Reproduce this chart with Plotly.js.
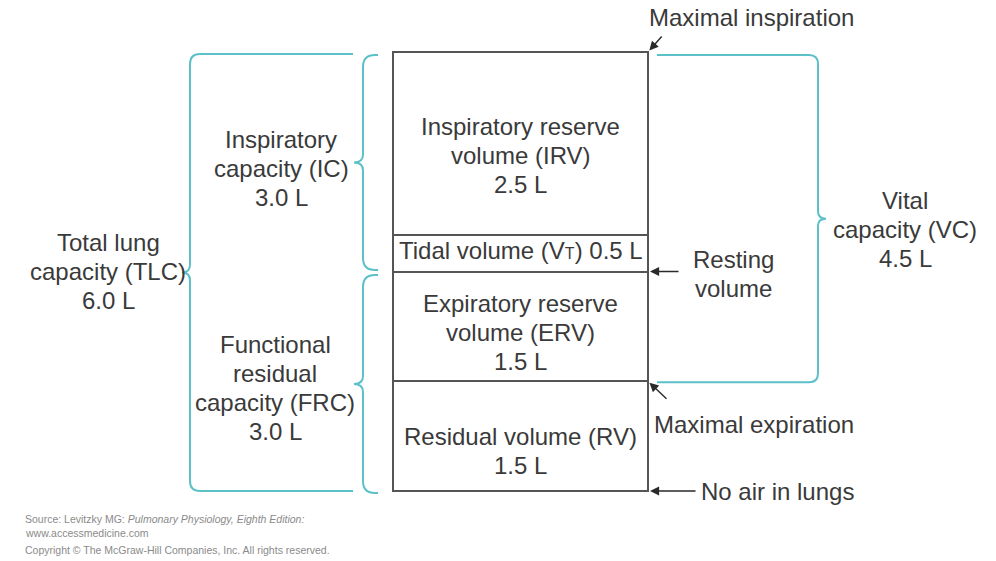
<!DOCTYPE html>
<html>
<head>
<meta charset="utf-8">
<script src="https://cdn.plot.ly/plotly-3.0.1.min.js"></script>
<style>html,body{margin:0;padding:0;background:#fff;}#chart{width:996px;height:561px;}</style>
</head>
<body>
<div id="chart"></div>
<script>
// ---- data (litres) ----
const volumeNames = ['Residual volume (RV)', 'Expiratory reserve volume (ERV)', 'Tidal volume (VT)', 'Inspiratory reserve volume (IRV)'];
const volumeLitres = [1.5, 1.5, 0.5, 2.5];
const volumeLabels = [
  'Residual volume (RV)<br>1.5 L',
  'Expiratory reserve<br>volume (ERV)<br>1.5 L',
  'Tidal volume (V<span style="font-size:16px">T</span>) 0.5 L',
  'Inspiratory reserve<br>volume (IRV)<br>2.5 L'
];
const capacityNames = ['Inspiratory capacity (IC)', 'Functional residual capacity (FRC)', 'Vital capacity (VC)', 'Total lung capacity (TLC)'];
const capacityLitres = [3.0, 3.0, 4.5, 6.0];
const capacityLabels = [
  'Inspiratory<br>capacity (IC)<br>3.0 L',
  'Functional<br>residual<br>capacity (FRC)<br>3.0 L',
  'Vital<br>capacity (VC)<br>4.5 L',
  'Total lung<br>capacity (TLC)<br>6.0 L'
];
const markerLabels = ['Maximal inspiration', 'Resting<br>volume', 'Maximal expiration', 'No air in lungs'];
const sourceLines = [
  'Source: Levitzky MG: <i>Pulmonary Physiology, Eighth Edition:</i>',
  'www.accessmedicine.com',
  'Copyright © The McGraw-Hill Companies, Inc. All rights reserved.'
];

// ---- derived levels ----
const cum = [0];
volumeLitres.forEach(v => cum.push(cum[cum.length - 1] + v));
const TLC = cum[4], FRCtop = cum[2], RVtop = cum[1], VTtop = cum[3];
const capSpan = [
  [TLC - capacityLitres[0], TLC],           // IC
  [0, capacityLitres[1]],                   // FRC
  [TLC - capacityLitres[2], TLC],           // VC
  [0, capacityLitres[3]]                    // TLC
];

// ---- geometry / style ----
const W = 996, H = 561;
const PX = 439 / TLC;               // pixels per litre
const yMin = -(H - 491) / PX, yMax = TLC + 52 / PX;
const d = p => p / PX;              // pixels -> litres
const BOX_X = 520.5, BOX_W = 255, BOX_R = BOX_X + BOX_W / 2;
const TEXT = '#3a3a3a', BRACE = '#5cc0c8', FONT = 'Liberation Sans, Arial, Helvetica, sans-serif';
const LH = 29;                      // line height, px

const traces = volumeLitres.map((v, i) => ({
  type: 'bar', x: [BOX_X], y: [v], width: [BOX_W], name: volumeNames[i],
  marker: {color: '#ffffff', line: {color: '#555555', width: 2}},
  showlegend: false, hoverinfo: 'skip'
}));

function brace(xEnd, xSpine, xTip, yLo, yHi, r, rt) {
  const s = Math.sign(xSpine - xEnd);
  const yMid = (yLo + yHi) / 2;
  return `M${xEnd},${yHi} L${xSpine - s * r},${yHi} Q${xSpine},${yHi} ${xSpine},${yHi - d(r)} ` +
         `L${xSpine},${yMid + d(rt)} Q${xSpine},${yMid} ${xTip},${yMid} Q${xSpine},${yMid} ${xSpine},${yMid - d(rt)} ` +
         `L${xSpine},${yLo + d(r)} Q${xSpine},${yLo} ${xSpine - s * r},${yLo} L${xEnd},${yLo}`;
}
const braceShape = p => ({type: 'path', xref: 'x', yref: 'y', path: p, line: {color: BRACE, width: 2}, fillcolor: 'rgba(0,0,0,0)'});
const shapes = [
  braceShape(brace(378, 363, 354, capSpan[0][0] + d(1.5), capSpan[0][1] - d(3), 12, 8)),   // IC
  braceShape(brace(378, 363, 354, capSpan[1][0] - d(2), capSpan[1][1] - d(3.5), 12, 8)),   // FRC
  braceShape(brace(657, 818, 826, capSpan[2][0] - d(1), capSpan[2][1] - d(3), 9, 7)),      // VC
  braceShape(brace(353, 190, 182, capSpan[3][0], capSpan[3][1] - d(2), 10, 8))             // TLC
];

const font = {family: FONT, size: 24, color: TEXT};
const annotations = [];
function label(x, y, text, extra) {
  extra = extra || {};
  const lines = text.split('<br>');
  const n = lines.length, ys = extra.yshift || 0;
  lines.forEach((t, i) => {
    annotations.push(Object.assign({x, y, xref: 'x', yref: 'y', text: t, showarrow: false, font,
      xanchor: 'center', yanchor: 'middle'}, extra, {yshift: ys - (i - (n - 1) / 2) * LH}));
  });
}
const mid = s => (s[0] + s[1]) / 2;

// volumes inside the box
label(BOX_X, (VTtop + TLC) / 2, volumeLabels[3], {yshift: -12.5});
label(BOX_X, (FRCtop + VTtop) / 2, volumeLabels[2], {yshift: 3});
label(BOX_X, (RVtop + FRCtop) / 2, volumeLabels[1], {yshift: -6});
label(BOX_X, RVtop / 2, volumeLabels[0], {yshift: -15});
// capacities
label(281, mid(capSpan[0]), capacityLabels[0], {yshift: -7});
label(275, mid(capSpan[1]), capacityLabels[1], {yshift: -7});
label(905, mid(capSpan[2]), capacityLabels[2], {yshift: -12.5});
label(108, mid(capSpan[3]), capacityLabels[3], {yshift: 0});
// markers
label(BOX_R, TLC, markerLabels[0], {xshift: 103, yshift: 35});
label(BOX_R, FRCtop, markerLabels[1], {xshift: 85, yshift: -2});
label(BOX_R, RVtop, markerLabels[2], {xshift: 106, yshift: -43});
label(BOX_R, 0, markerLabels[3], {xanchor: 'left', xshift: 51, yshift: 0});

const arrow = (x, y, ax, ay) => ({x, y, xref: 'x', yref: 'y', text: '', showarrow: true, ax, ay,
  arrowhead: 2, arrowsize: 1.3, arrowwidth: 1.4, arrowcolor: '#2a2a2a', standoff: 2});
annotations.push(
  arrow(BOX_R, TLC, 15, -17),
  arrow(BOX_R, FRCtop, 32, 0),
  arrow(BOX_R, RVtop, 20, 19),
  arrow(BOX_R, 0, 49, 0)
);
// source
const srcY = [519, 532.5, 550];
sourceLines.forEach((t, i) => annotations.push({
  x: 24 / W, y: 1 - srcY[i] / H, xref: 'paper', yref: 'paper', text: t, showarrow: false,
  xanchor: 'left', yanchor: 'middle', borderpad: 0, font: {family: FONT, size: 10.5, color: '#8a8a8a'}
}));

const layout = {
  width: W, height: H, margin: {l: 0, r: 0, t: 0, b: 0},
  paper_bgcolor: '#ffffff', plot_bgcolor: '#ffffff',
  barmode: 'stack', showlegend: false, hovermode: false,
  xaxis: {range: [0, W], visible: false, fixedrange: true},
  yaxis: {range: [yMin, yMax], visible: false, fixedrange: true},
  shapes, annotations
};
Plotly.newPlot('chart', traces, layout, {staticPlot: true, displayModeBar: false});
</script>
</body>
</html>
